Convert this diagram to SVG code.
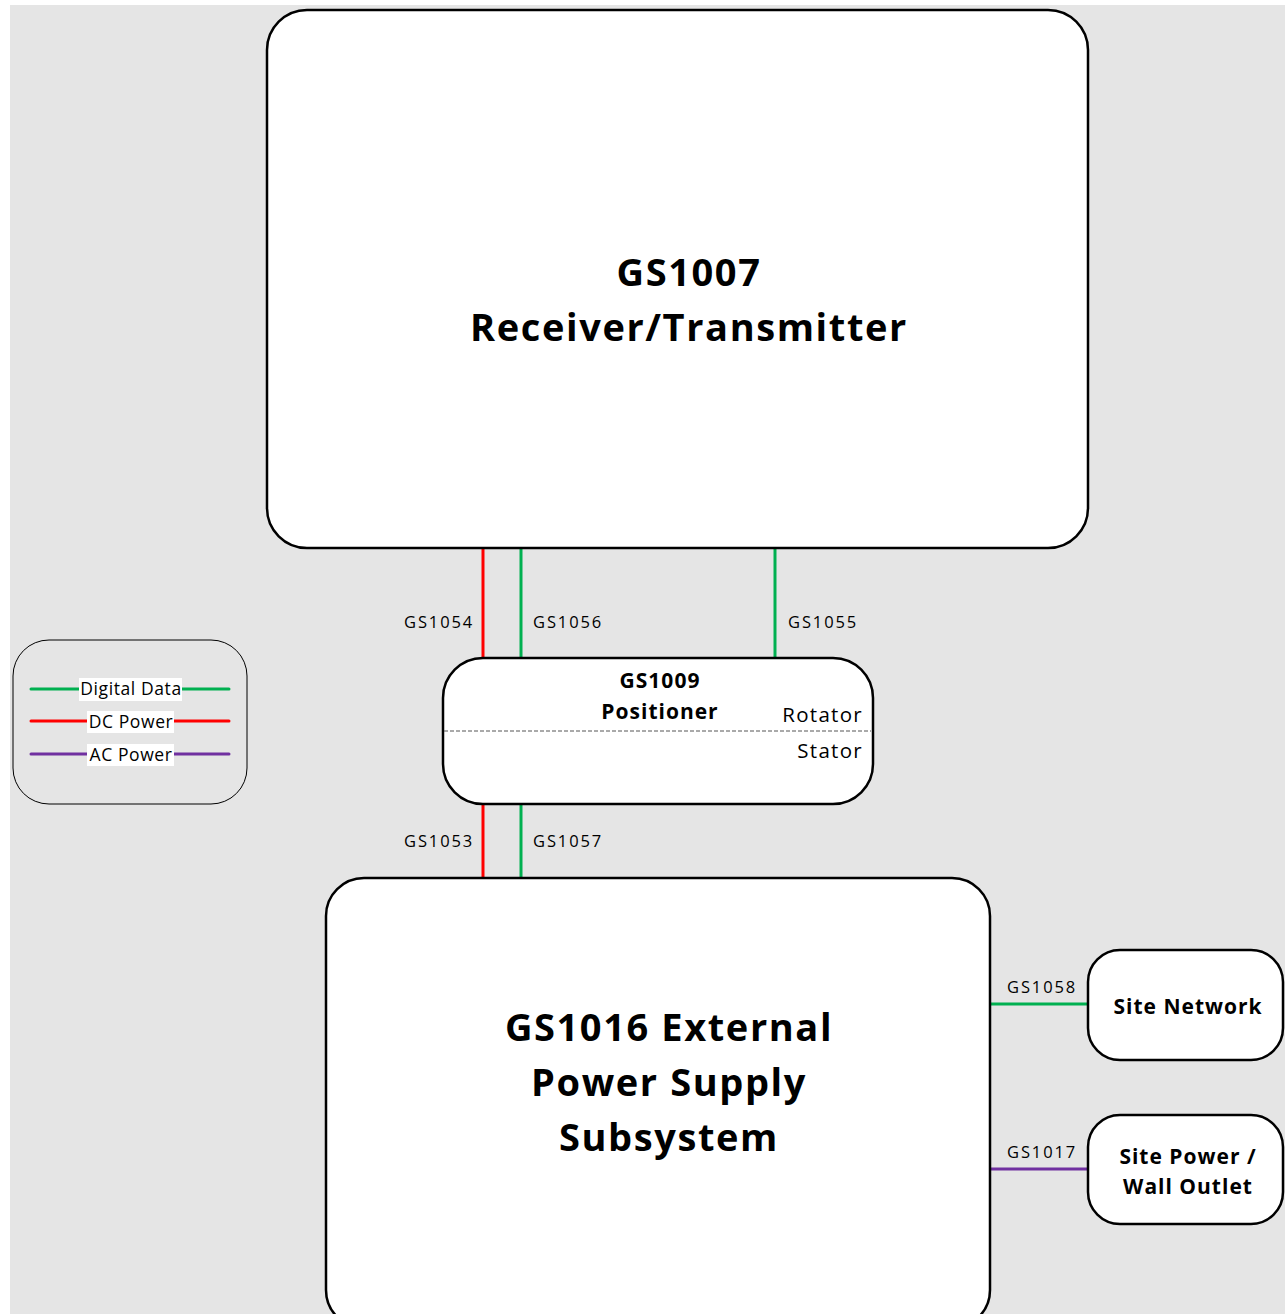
<svg xmlns="http://www.w3.org/2000/svg" width="1285" height="1314" viewBox="0 0 1285 1314">
<style>
.box{fill:#fff;stroke:#000;stroke-width:2.5}
.leg{fill:none;stroke:#000;stroke-width:1}
.g{stroke:#00b050;stroke-width:3;fill:none}
.r{stroke:#ff0000;stroke-width:3;fill:none}
.p{stroke:#7030a0;stroke-width:3;fill:none}
text{font-family:"Open Sans","Noto Sans","Liberation Sans",sans-serif;fill:#000}
.big{font-size:38px;font-weight:bold;text-anchor:middle;letter-spacing:1.6px}
.mid{font-size:21px;font-weight:bold;text-anchor:middle;letter-spacing:1px}
.lbl{font-size:16.5px;letter-spacing:1.9px}
.rs{font-size:20.5px;text-anchor:end;letter-spacing:1.3px}
.lg{font-size:17.5px;text-anchor:middle;letter-spacing:0.6px}
</style>
<rect x="10" y="5" width="1275" height="1309" fill="#e5e5e5"/>
<g id="connectors">
<line class="r" x1="483" y1="548" x2="483" y2="658"/>
<line class="g" x1="521" y1="548" x2="521" y2="658"/>
<line class="g" x1="775" y1="548" x2="775" y2="658"/>
<line class="r" x1="483" y1="804" x2="483" y2="878"/>
<line class="g" x1="521" y1="804" x2="521" y2="878"/>
<line class="g" x1="990" y1="1004" x2="1088" y2="1004"/>
<line class="p" x1="990" y1="1169" x2="1088" y2="1169"/>
<text class="lbl" x="404" y="628">GS1054</text>
<text class="lbl" x="533" y="628">GS1056</text>
<text class="lbl" x="788" y="628">GS1055</text>
<text class="lbl" x="404" y="847">GS1053</text>
<text class="lbl" x="533" y="847">GS1057</text>
<text class="lbl" x="1007" y="993">GS1058</text>
<text class="lbl" x="1007" y="1158">GS1017</text>
</g>
<g id="gs1007">
<rect class="box" x="267" y="10" width="821" height="538" rx="40" ry="40"/>
<text class="big" x="689" y="286">GS1007</text>
<text class="big" x="689" y="341">Receiver/Transmitter</text>
</g>
<g id="gs1009">
<rect class="box" x="443" y="658" width="430" height="146" rx="40" ry="40"/>
<line x1="444" y1="731" x2="871" y2="731" stroke="#555" stroke-width="1" stroke-dasharray="4,2"/>
<text class="mid" x="660" y="688">GS1009</text>
<text class="mid" x="660" y="719">Positioner</text>
<text class="rs" x="863" y="722">Rotator</text>
<text class="rs" x="863" y="758">Stator</text>
</g>
<g id="gs1016">
<rect class="box" x="326" y="878" width="664" height="450" rx="38" ry="38"/>
<text class="big" x="669" y="1041">GS1016 External</text>
<text class="big" x="669" y="1096">Power Supply</text>
<text class="big" x="669" y="1151">Subsystem</text>
</g>
<g id="site-network">
<rect class="box" x="1088" y="950" width="195" height="110" rx="32" ry="32"/>
<text class="mid" x="1188" y="1014">Site Network</text>
</g>
<g id="site-power">
<rect class="box" x="1088" y="1115" width="195" height="109" rx="32" ry="32"/>
<text class="mid" x="1188" y="1164">Site Power /</text>
<text class="mid" x="1188" y="1194">Wall Outlet</text>
</g>
<g id="legend">
<rect class="leg" x="13" y="640" width="234" height="164" rx="36" ry="36"/>
<line class="g" x1="31" y1="689" x2="229" y2="689" stroke-linecap="round"/>
<line class="r" x1="31" y1="721" x2="229" y2="721" stroke-linecap="round"/>
<line class="p" x1="31" y1="754" x2="229" y2="754" stroke-linecap="round"/>
<rect x="79" y="678" width="103" height="23" fill="#fff"/>
<rect x="87" y="711" width="87" height="22" fill="#fff"/>
<rect x="87" y="744" width="87" height="22" fill="#fff"/>
<text class="lg" x="131" y="695">Digital Data</text>
<text class="lg" x="131" y="728">DC Power</text>
<text class="lg" x="131" y="761">AC Power</text>
</g>
</svg>
